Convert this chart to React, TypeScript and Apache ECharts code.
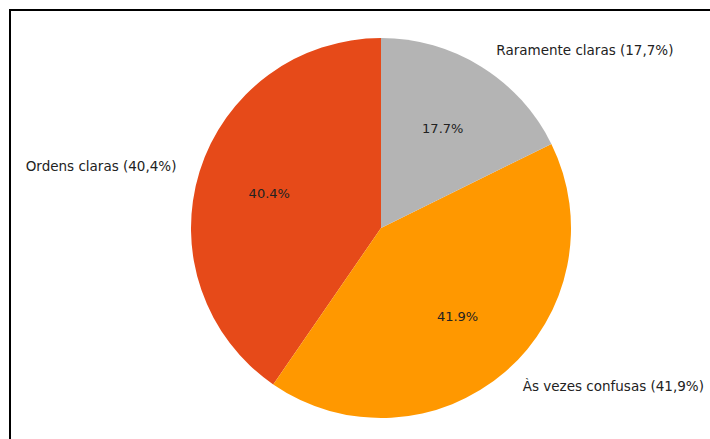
import React, { useEffect, useRef } from "react";
import * as echarts from "echarts";

const categories = ["Ordens claras", "Às vezes confusas", "Raramente claras"];
const values = [40.4, 41.9, 17.7];
const outerLabels = ["Ordens claras (40,4%)", "Às vezes confusas (41,9%)", "Raramente claras (17,7%)"];
const innerLabels = ["40.4%", "41.9%", "17.7%"];
const colors = ["#E64A19", "#FF9800", "#B4B4B4"];

export default function App() {
  const ref = useRef<HTMLDivElement>(null);
  useEffect(() => {
    document.body.style.margin = "0";
    if (!ref.current) return;
    const chart = echarts.init(ref.current, null, { renderer: "svg" });
    const R = 190;
    const cx = 381;
    const cy = 228;
    const font = "DejaVu Sans";
    chart.setOption({
      animation: false,
      backgroundColor: "#ffffff",
      graphic: [
        {
          type: "rect",
          shape: { x: 10, y: 10, width: 730, height: 460 },
          style: { fill: "none", stroke: "#000000", lineWidth: 2 },
          z: 100,
        },
      ],
      series: [
        {
          type: "pie",
          center: [cx, cy],
          radius: [0, R],
          startAngle: 90,
          clockwise: false,
          avoidLabelOverlap: false,
          silent: true,
          itemStyle: { borderWidth: 0 },
          label: {
            show: true,
            position: "outside",
            fontFamily: font,
            fontSize: 13.5,
            color: "#222222",
            overflow: "none",
            bleedMargin: 0,
            distanceToLabelLine: 5,
            formatter: (p: any) => outerLabels[p.dataIndex],
          },
          labelLine: { show: false, length: R * 0.1, length2: 0 },
          data: categories.map((c, i) => ({
            name: c,
            value: values[i],
            itemStyle: { color: colors[i] },
          })),
        },
        {
          type: "pie",
          center: [cx, cy],
          radius: [R * 0.2, R],
          startAngle: 90,
          clockwise: false,
          avoidLabelOverlap: false,
          silent: true,
          itemStyle: { color: "rgba(0,0,0,0)", borderWidth: 0 },
          label: {
            show: true,
            position: "inside",
            fontFamily: font,
            fontSize: 13,
            color: "#222222",
            formatter: (p: any) => innerLabels[p.dataIndex],
          },
          labelLine: { show: false },
          data: categories.map((c, i) => ({ name: c, value: values[i] })),
        },
      ],
    });
    return () => chart.dispose();
  }, []);
  return <div ref={ref} style={{ width: 710, height: 439 }} />;
}
